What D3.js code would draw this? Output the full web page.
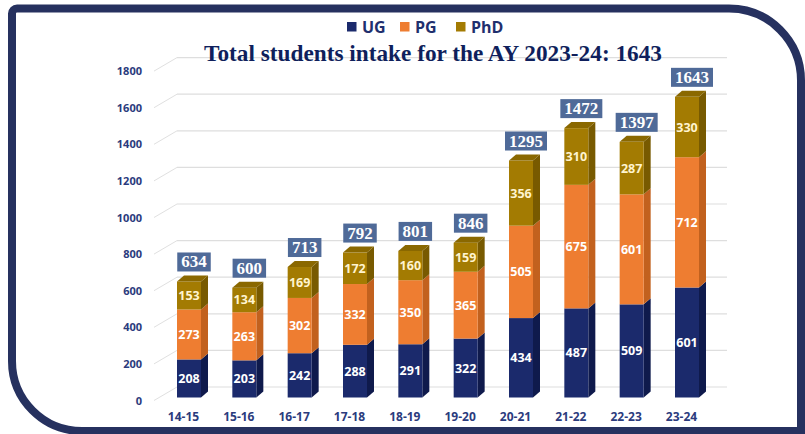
<!DOCTYPE html>
<html><head><meta charset="utf-8">
<script src="https://cdn.jsdelivr.net/npm/d3@7"></script>
<style>
html,body{margin:0;padding:0;background:#fff;}
svg{display:block;}
</style></head>
<body>
<svg id="c" width="805" height="434"></svg>
<script>
const categories = ["14-15","15-16","16-17","17-18","18-19","19-20","20-21","21-22","22-23","23-24"];
const ugValues  = [208,203,242,288,291,322,434,487,509,601];
const pgValues  = [273,263,302,332,350,365,505,675,601,712];
const phdValues = [153,134,169,172,160,159,356,310,287,330];
const totals    = [634,600,713,792,801,846,1295,1472,1397,1643];
const seriesNames = ["UG","PG","PhD"];
const yTicks = [0,200,400,600,800,1000,1200,1400,1600,1800];
const titleText = "Total students intake for the AY 2023-24: 1643";

const colors = {
  UG:  {front:"#1b2a6c", side:"#0f1a4c", top:"#14215a", label:"#ffffff"},
  PG:  {front:"#ee7d31", side:"#c2611e", top:"#d56c25", label:"#ffffff"},
  PhD: {front:"#a37b02", side:"#785a00", top:"#8a6800", label:"#fff4cf"}
};
const navy = "#2b3b7d";

const svg = d3.select("#c");

// frame
(function(){
  const x0=12, y0=8.5, x1=801, y1=431, rTL=5, rTR=72, rBL=70;
  const p = d3.path();
  p.moveTo(x0+rTL, y0);
  p.lineTo(x1-rTR, y0);
  p.arcTo(x1, y0, x1, y0+rTR, rTR);
  p.lineTo(x1, y1);
  p.lineTo(x0+rBL, y1);
  p.arcTo(x0, y1, x0, y1-rBL, rBL);
  p.lineTo(x0, y0+rTL);
  p.arcTo(x0, y0, x0+rTL, y0, rTL);
  p.closePath();
  svg.append("path").attr("d", p.toString()).attr("fill","#fff")
     .attr("stroke","#26315f").attr("stroke-width",8);
})();

const y = d3.scaleLinear().domain([0,1800]).range([397.5, 68.1]);
const x = d3.scalePoint().domain(categories).range([189, 687]);
const barW = 24, dx = 7, dy = -6;
const backDY = -10.5, backX0 = 177, backX1 = 727, diagX0 = 154;

// gridlines (3D back wall)
const grid = svg.append("g");
yTicks.forEach(v => {
  const yf = y(v);
  grid.append("line").attr("x1",diagX0).attr("y1",yf+3).attr("x2",backX0).attr("y2",yf+backDY)
    .attr("stroke","#e0e0e0").attr("stroke-width",1);
  grid.append("line").attr("x1",backX0).attr("y1",yf+backDY).attr("x2",backX1).attr("y2",yf+backDY)
    .attr("stroke","#dedede").attr("stroke-width",1.2);
});

// y axis labels
const yAxis = svg.append("g").attr("transform","translate(142,3)")
  .call(d3.axisLeft(y).tickValues(yTicks).tickSize(0).tickPadding(0).tickFormat(d3.format("d")));
yAxis.select(".domain").remove();
yAxis.selectAll("text").attr("fill",navy).attr("font-family","'Open Sans', sans-serif")
  .attr("font-weight","bold").attr("font-size","11px");

// x axis labels
const xAxis = svg.append("g").attr("transform","translate(-6,412)")
  .call(d3.axisBottom(x).tickSize(0).tickPadding(0));
xAxis.select(".domain").remove();
xAxis.selectAll("text").attr("fill",navy).attr("font-family","'Open Sans', sans-serif")
  .attr("font-weight","bold").attr("font-size","12px");

// stacked data
const rows = categories.map((c,i) => ({cat:c, UG:ugValues[i], PG:pgValues[i], PhD:phdValues[i]}));
const stacked = d3.stack().keys(seriesNames)(rows);

const bars = svg.append("g");
categories.forEach((c,i) => {
  const xl = x(c) - barW/2, xr = x(c) + barW/2;
  stacked.forEach((s, si) => {
    const key = s.key, col = colors[key];
    const y0v = s[i][0], y1v = s[i][1];
    const yb = y(y0v), yt = y(y1v);
    bars.append("path")
      .attr("d", `M${xr},${yb} L${xr+dx},${yb+dy} L${xr+dx},${yt+dy} L${xr},${yt} Z`)
      .attr("fill", col.side);
    bars.append("rect").attr("x", xl).attr("y", yt).attr("width", barW).attr("height", yb-yt)
      .attr("fill", col.front);
    if (si === stacked.length-1) {
      bars.append("path")
        .attr("d", `M${xl},${yt} L${xl+dx},${yt+dy} L${xr+dx},${yt+dy} L${xr},${yt} Z`)
        .attr("fill", col.top);
    }
    bars.append("text").attr("x", x(c)).attr("y", (yb+yt)/2)
      .attr("text-anchor","middle").attr("dominant-baseline","central")
      .attr("fill", col.label).attr("font-family","'Open Sans', sans-serif")
      .attr("font-weight","bold").attr("font-size","12.5px")
      .text(s[i].data[key]);
  });
  const tx = x(c) + 5, ty = y(totals[i]) - 19.5;
  const g = bars.append("g");
  const t = g.append("text").attr("x", tx).attr("y", ty)
    .attr("text-anchor","middle").attr("dominant-baseline","central")
    .attr("fill","#ffffff").attr("font-family","'Liberation Serif', serif")
    .attr("font-weight","bold").attr("font-size","17px").text(totals[i]);
  const w = t.node().getComputedTextLength();
  g.insert("rect","text").attr("x", tx - w/2 - 4).attr("y", ty - 9.5)
    .attr("width", w + 8).attr("height", 19).attr("fill","#4f6a98");
});

// title
svg.append("text").attr("x", 433).attr("y", 61)
  .attr("text-anchor","middle").attr("fill","#0f1f5c")
  .attr("font-family","'Liberation Serif', serif").attr("font-weight","bold")
  .attr("font-size","23px").attr("textLength", 458).attr("lengthAdjust","spacingAndGlyphs")
  .text(titleText);

// legend
const legend = svg.append("g");
const legendItems = [
  {name:"UG", x:347}, {name:"PG", x:400}, {name:"PhD", x:456}
];
legendItems.forEach(it => {
  legend.append("rect").attr("x", it.x).attr("y", 22).attr("width", 9.5).attr("height", 9.5)
    .attr("fill", colors[it.name].front);
  legend.append("text").attr("x", it.x + 15).attr("y", 26.5)
    .attr("dominant-baseline","central").attr("fill","#1f2f6e")
    .attr("font-family","'Open Sans', sans-serif").attr("font-weight","bold")
    .attr("font-size","16px").text(it.name);
});
</script>
</body></html>
